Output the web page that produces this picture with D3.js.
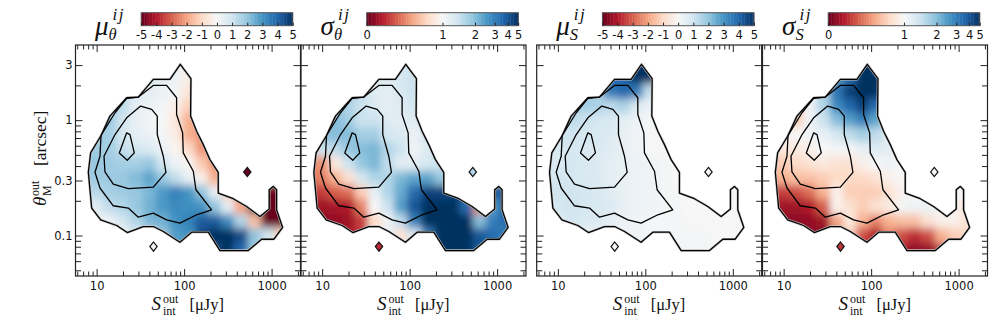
<!DOCTYPE html>
<html>
<head>
<meta charset="utf-8">
<script src="https://cdn.jsdelivr.net/npm/d3@7"></script>
<style>
  html, body { margin: 0; padding: 0; background: #fff; }
  svg { display: block; }
  .tick text { font-family: "DejaVu Sans", sans-serif; font-size: 11.5px; fill: #111; }
  .math { font-family: "Liberation Serif", serif; fill: #111; }
</style>
</head>
<body>
<svg class="chart" width="1008" height="325"></svg>
<script>
// grid centres, log10 of S [uJy] and log10 of theta [arcsec]
const logSBins = [0.85, 1, 1.15, 1.3, 1.45, 1.6, 1.75, 1.9, 2.05, 2.2, 2.35, 2.5, 2.65, 2.8, 2.95, 3.1];
const logThetaBins = [0.5, 0.375, 0.25, 0.125, 0, -0.125, -0.25, -0.375, -0.5, -0.625, -0.75, -0.875, -1, -1.125];

const muTheta = [
  [1.2,1.2,1.2,1.2,1,.8,.6,.4,.2,-.3,-.3,-.3,-.3,-.3,-.3,-.3],
  [1.2,1.2,1.2,1.2,1,.8,.5,.3,-.3,-.6,-.6,-.6,-.6,-.6,-.6,-.6],
  [1.5,1.5,1.5,1.4,.8,.5,.3,.1,-.6,-1,-1,-1,-1,-1,-1,-1],
  [1.9,1.9,1.8,1.3,.5,.3,.1,-.3,-1.2,-1.5,-1.5,-1.5,-1.5,-1.5,-1.5,-1.5],
  [1.9,1.9,1.8,1,.4,.1,0,-.6,-1.8,-2,-2,-2,-2,-2,-2,-2],
  [1.9,1.9,1.7,.9,.5,.3,.1,-.4,-1.8,-2.2,-2.2,-2.2,-2.2,-2.2,-2.2,-2.2],
  [1.8,1.8,1.7,1.2,.9,.7,.3,-.1,-1,-2.2,-2.2,-2.2,-2.2,-2.2,-2.2,-2.2],
  [1.9,1.9,1.8,1.7,1.7,1.9,1,.3,-.1,-1.3,-2.2,-2.2,-2.2,-2.2,-2.2,-2.2],
  [1.8,1.8,1.8,1.9,2.2,2.7,1.9,1.2,.4,-.3,-1.8,-2.2,-2.5,-2.5,-2.5,-2.5],
  [1.4,1.4,1.7,1.8,1.9,2.3,2.9,3.4,3,2,.4,-1.3,-2.2,-4,-5,-5],
  [.6,.6,1.3,1.5,1.9,2.4,2.9,3.2,3.1,3,2,.5,-2,-5,-5,-5],
  [.3,.3,.3,.9,1.5,2.3,2.4,3,3.4,4.2,4.2,3.2,1.5,-1.5,-5,-5],
  [.2,.2,.3,.3,.7,1,1.8,2.8,3,4.5,5,5,4.5,2,1,-1],
  [.2,.2,.3,.3,.5,.8,1.5,2.4,3,4,4.5,5,4,2,1,.5]
];
const sigmaTheta = [
  [1.5,1.5,1.5,1.5,1.5,1.4,1.4,1.5,1.5,1.5,1.5,1.5,1.5,1.5,1.5,1.5],
  [1.5,1.5,1.5,1.5,1.5,1.4,1.3,1.4,1.5,1.5,1.5,1.5,1.5,1.5,1.5,1.5],
  [1.8,1.8,1.8,1.8,1.6,1.3,1.25,1.35,1.5,1.5,1.5,1.5,1.5,1.5,1.5,1.5],
  [2,2,2,1.7,1.5,1.35,1.25,1.3,1.4,1.4,1.4,1.4,1.4,1.4,1.4,1.4],
  [2,2,2,1.8,1.5,1.5,1.3,1.25,1.3,1.4,1.4,1.4,1.4,1.4,1.4,1.4],
  [2,2,2,2,1.8,1.8,1.4,1.35,1.15,1.4,1.4,1.4,1.4,1.4,1.4,1.4],
  [1.5,1.5,1.6,1.9,2,2.1,1.7,1.5,1.1,1.3,1.6,1.6,1.6,1.6,1.6,1.6],
  [.5,.55,.9,1.5,1.9,2.1,1.6,1.25,1.25,1.4,1.5,1.6,1.6,1.6,1.6,1.6],
  [.45,.5,.65,.85,1.4,1.7,1.7,2.1,2.4,2.4,1.9,1.9,1.9,1.9,1.9,1.9],
  [.3,.3,.4,.45,.75,1.2,1.7,2.3,3.5,4.5,4.5,4.5,4,4,4,4],
  [.15,.15,.17,.2,.5,1,1.5,2.5,4,5,5,5,3.5,.5,2.5,4],
  [.1,.1,.12,.15,.3,.8,1.1,1.6,3,5,5,5,5,2,3,3.5],
  [.1,.1,.15,.2,.3,.9,1.2,.85,1.4,3,5,5,5,4,3.5,3],
  [.1,.1,.15,.2,.3,.9,1.1,.9,1.5,3,5,5,5,4,3,3]
];
const muS = [
  [2,2,2,2,2,3,3.5,5,5,5,5,5,5,5,5,5],
  [2,2,2,2,2.5,4,4,5,5,4,4,4,4,4,4,4],
  [1.8,1.8,1.8,1.8,1.7,3.5,4,3.5,1.2,1,1,1,1,1,1,1],
  [1.6,1.6,1.6,1.7,1.6,1.3,1.6,.7,.3,.2,.2,.2,.2,.2,.2,.2],
  [1.3,1.3,1.3,1.1,.9,.8,.5,.3,.1,.1,.1,.1,.1,.1,.1,.1],
  [1.1,1.1,1,.9,.8,.7,.4,.2,.05,0,0,0,0,0,0,0],
  [.8,.8,.9,.8,.7,.6,.4,.2,0,-.05,-.05,-.05,-.05,-.05,-.05,-.05],
  [.7,.7,.9,.8,.7,.5,.4,.3,.2,.1,0,-.05,-.05,-.05,-.05,-.05],
  [.8,.9,.9,.8,.7,.5,.4,.3,.2,.1,0,0,0,0,0,0],
  [.7,1,1,.9,.8,.6,.4,.3,.2,.1,.05,0,0,0,0,0],
  [.5,.9,1,.9,.8,.7,.4,.3,.2,.1,.1,0,0,-.05,-.05,-.1],
  [.3,.5,.9,.8,.7,.5,.3,.2,.1,.1,.1,0,0,0,0,-.05],
  [.2,.3,.4,.3,.3,.3,.2,.2,.1,.1,.1,.1,.1,0,0,0],
  [.2,.3,.4,.3,.3,.3,.2,.2,.1,.1,.1,.1,.1,0,0,0]
];
const sigmaS = [
  [1,1,1,1,1.2,2,3,5,5,5,5,5,5,5,5,5],
  [.9,.9,.9,1,1.3,2.5,3.5,5,5,5,5,5,5,5,5,5],
  [.8,.8,.8,1,1.8,3.3,4.6,5,5,5,5,5,5,5,5,5],
  [.75,.75,.75,1.1,1.7,2.8,3.6,4.5,3.5,2.5,2.5,2.5,2.5,2.5,2.5,2.5],
  [.75,.75,.75,1.1,1.5,2,2.5,3,2.4,1.8,1.8,1.8,1.8,1.8,1.8,1.8],
  [.95,.95,1,1.1,1.2,1.4,1.6,1.8,1.6,1.3,1.3,1.3,1.3,1.3,1.3,1.3],
  [.9,.9,.9,.95,1,1.05,1.05,1.2,1.3,1.25,1.1,1.1,1.1,1.1,1.1,1.1],
  [.7,.75,.8,.85,.9,.85,.85,.95,1,1.1,1.05,1.05,1.05,1.05,1.05,1.05],
  [.65,.65,.7,.7,.75,.8,.8,.8,.85,.95,1,1,1,1,1,1],
  [.3,.3,.35,.45,.65,.95,.75,.75,.75,.85,.95,1.05,1,1,1,1],
  [.15,.15,.15,.2,.4,.95,.85,.75,.85,.9,1.05,1.1,1.15,1.05,.95,.85],
  [.1,.1,.1,.12,.15,.6,.9,.65,.5,.65,.7,.7,.85,.95,.95,.85],
  [.1,.1,.1,.12,.1,.45,.75,.35,.2,.5,.35,.25,.35,.65,.75,.8],
  [.1,.1,.1,.12,.1,.45,.7,.25,.2,.4,.2,.1,.12,.3,.7,.8]
];

// density contours, [log10 S, log10 theta]
const contourOuter = [[1.956,.484],[2.078,.359],[2.074,.035],[2.143,-.096],[2.219,-.212],[2.295,-.342],[2.39,-.452],[2.39,-.632],[2.562,-.681],[2.714,-.748],[2.867,-.835],[2.973,-.771],[2.973,-.603],[3.019,-.574],[3.057,-.603],[3.057,-.777],[3.126,-.93],[3.027,-1.032],[2.886,-1.032],[2.733,-1.13],[2.41,-1.13],[2.276,-.971],[2.086,-.971],[1.952,-1.058],[1.762,-.965],[1.648,-.922],[1.533,-.922],[1.35,-.974],[1.229,-.913],[1.046,-.864],[.943,-.762],[.905,-.452],[.931,-.284],[1.05,-.133],[1.152,.035],[1.343,.194],[1.476,.2],[1.648,.354],[1.838,.354]];
const contourSecond = [[.981,-.452],[1.038,-.313],[1.05,-.133],[1.21,.064],[1.343,.188],[1.476,.2],[1.648,.301],[1.8,.301],[1.914,.194],[1.914,.049],[1.983,-.11],[1.99,-.284],[2.105,-.443],[2.135,-.603],[2.314,-.777],[2.143,-.82],[1.952,-.893],[1.8,-.864],[1.648,-.806],[1.476,-.841],[1.362,-.762],[1.19,-.742],[1.038,-.588]];
const contourThird = [[1.084,-.313],[1.21,-.125],[1.343,.02],[1.503,.122],[1.629,.093],[1.693,.035],[1.693,-.125],[1.762,-.313],[1.792,-.452],[1.648,-.58],[1.362,-.594],[1.19,-.554],[1.095,-.449]];
const contourInner = [[1.343,-.11],[1.381,-.125],[1.43,-.284],[1.35,-.348],[1.259,-.284]];
const contours = [contourOuter, contourSecond, contourThird, contourInner];

// two isolated bins off the main distribution
const loneBins = [[1.65, -1.096], [2.722, -0.449]];
const loneValues = {
  muTheta: [0.1, -5], sigmaTheta: [0.25, 1.7], muS: [0.05, 0], sigmaS: [0.28, 1]
};

const muTicks = [-5, -4, -3, -2, -1, 0, 1, 2, 3, 4, 5];
const sigmaTicks = [0, 1, 2, 3, 4, 5];
const sigmaStops = [0, 0.5, 0.715, 0.845, 0.93, 1];

const xMajor = [10, 100, 1000];
const xMinor = [6, 7, 8, 9, 20, 30, 40, 50, 60, 70, 80, 90, 200, 300, 400, 500, 600, 700, 800, 900, 2000];
const yMajor = [0.1, 0.3, 1, 3];
const yMinor = [0.05, 0.06, 0.07, 0.08, 0.09, 0.2, 0.4, 0.5, 0.6, 0.7, 0.8, 0.9, 2];

const panels = [
  { key: 'muTheta', left: 75.5, grid: muTheta, sym: '\u03bc', sub: '\u03b8', sigma: false },
  { key: 'sigmaTheta', left: 301, grid: sigmaTheta, sym: '\u03c3', sub: '\u03b8', sigma: true },
  { key: 'muS', left: 536.7, grid: muS, sym: '\u03bc', sub: 'S', sigma: false },
  { key: 'sigmaS', left: 762.5, grid: sigmaS, sym: '\u03c3', sub: 'S', sigma: true }
];

const svg = d3.select('.chart');
const frameTop = 45, frameBottom = 276, panelWidth = 225;
const barOffset = 65.7, barWidth = 151.5, barTop = 12.7, barHeight = 13;
const binS = 0.15, binTheta = 0.125;

const colorMap = d3.scaleLinear()
  .domain(d3.range(11).map(i => i / 10))
  .range(d3.schemeRdBu[11]);
const muPos = d3.scaleLinear().domain([-5, 5]).range([0, 1]).clamp(true);
const sigmaPos = d3.scaleLinear().domain(sigmaTicks).range(sigmaStops).clamp(true);

const yScale = d3.scaleLog().domain([4.48, 0.0446]).range([frameTop, frameBottom]);

const defs = svg.append('defs');
const smooth = defs.append('filter').attr('id', 'smooth')
  .attr('filterUnits', 'userSpaceOnUse')
  .attr('x', 0).attr('y', 0).attr('width', 1008).attr('height', 325);
smooth.append('feGaussianBlur').attr('stdDeviation', '3.8 4.2');
const soft = defs.append('filter').attr('id', 'soft')
  .attr('filterUnits', 'userSpaceOnUse')
  .attr('x', 0).attr('y', 0).attr('width', 1008).attr('height', 325);
soft.append('feGaussianBlur').attr('stdDeviation', 0.35);

const addMath = (g, x, y, str, size, italic) => g.append('text')
  .attr('class', 'math').attr('x', x).attr('y', y)
  .attr('font-size', size).attr('font-style', italic ? 'italic' : 'normal')
  .text(str);

const paintPanel = (p, i) => {
  const x0 = p.left;
  const xScale = d3.scaleLog().domain([5.73, 2140]).range([x0, x0 + panelWidth]);
  const pos = p.sigma ? sigmaPos : muPos;
  const fill = v => colorMap(pos(v));
  const px = d => xScale(10 ** d[0]);
  const py = d => yScale(10 ** d[1]);
  const line = d3.line().x(px).y(py).curve(d3.curveLinearClosed);
  const g = svg.append('g').attr('class', `panel-${p.key}`);

  defs.append('clipPath').attr('id', `clip-${p.key}`)
    .append('path').attr('d', line(contourOuter));

  // smoothed map, edge bins stretched so the blur does not fade at the border
  const cells = p.grid.flatMap((row, r) => row.map((v, c) => ({ v, r, c })));
  const edge = 30;
  const cellLeft = c => xScale(10 ** (logSBins[c] - binS / 2)) - (c === 0 ? edge : 0);
  const cellRight = c => xScale(10 ** (logSBins[c] + binS / 2)) + (c === logSBins.length - 1 ? edge : 0);
  const cellTop = r => yScale(10 ** (logThetaBins[r] + binTheta / 2)) - (r === 0 ? edge : 0);
  const cellBottom = r => yScale(10 ** (logThetaBins[r] - binTheta / 2)) + (r === logThetaBins.length - 1 ? edge : 0);
  g.append('g').attr('clip-path', `url(#clip-${p.key})`)
    .append('g').attr('filter', 'url(#smooth)')
    .selectAll('rect').data(cells).enter().append('rect')
    .attr('x', d => cellLeft(d.c))
    .attr('y', d => cellTop(d.r))
    .attr('width', d => cellRight(d.c) - cellLeft(d.c))
    .attr('height', d => cellBottom(d.r) - cellTop(d.r))
    .attr('shape-rendering', 'crispEdges')
    .attr('fill', d => fill(d.v));

  // faint halo round the outer contour, then the contours
  g.append('path').attr('d', line(contourOuter))
    .attr('fill', 'none').attr('stroke', '#c4c4c4').attr('stroke-width', 2.4)
    .attr('stroke-linejoin', 'round').attr('filter', 'url(#soft)');
  g.append('g').attr('filter', 'url(#soft)')
    .selectAll('.level').data(contours).enter().append('path')
    .attr('class', 'level')
    .attr('d', line)
    .attr('fill', 'none').attr('stroke', '#000').attr('stroke-width', 1.3)
    .attr('stroke-linejoin', 'round');

  // lone bins as small diamonds
  const dS = 0.042, dT = 0.04;
  g.selectAll('.lone').data(loneBins).enter().append('path')
    .attr('class', 'lone')
    .attr('d', d => line([[d[0], d[1] + dT], [d[0] + dS, d[1]], [d[0], d[1] - dT], [d[0] - dS, d[1]]]))
    .attr('fill', (d, k) => fill(loneValues[p.key][k]))
    .attr('stroke', '#111').attr('stroke-width', 1.2);

  // frame and inward ticks on all four sides
  g.append('rect').attr('x', x0).attr('y', frameTop)
    .attr('width', panelWidth).attr('height', frameBottom - frameTop)
    .attr('fill', 'none').attr('stroke', '#222').attr('stroke-width', 1.2);

  const tickLine = sel => {
    sel.select('.domain').remove();
    sel.selectAll('.tick line').attr('stroke', '#222').attr('stroke-width', 1);
  };
  const none = () => '';
  g.append('g').attr('transform', `translate(0,${frameBottom})`)
    .call(d3.axisBottom(xScale).tickValues(xMajor).tickSize(-7).tickPadding(6).tickFormat(d3.format('d')))
    .call(tickLine);
  g.append('g').attr('transform', `translate(0,${frameBottom})`)
    .call(d3.axisBottom(xScale).tickValues(xMinor).tickSize(-4.5).tickFormat(none)).call(tickLine);
  g.append('g').attr('transform', `translate(0,${frameTop})`)
    .call(d3.axisTop(xScale).tickValues(xMajor).tickSize(-7).tickFormat(none)).call(tickLine);
  g.append('g').attr('transform', `translate(0,${frameTop})`)
    .call(d3.axisTop(xScale).tickValues(xMinor).tickSize(-4.5).tickFormat(none)).call(tickLine);

  g.append('g').attr('transform', `translate(${x0},0)`)
    .call(d3.axisLeft(yScale).tickValues(yMajor).tickSize(-7).tickPadding(3)
      .tickFormat(i === 0 ? d => String(d) : none))
    .call(tickLine);
  g.append('g').attr('transform', `translate(${x0},0)`)
    .call(d3.axisLeft(yScale).tickValues(yMinor).tickSize(-5.5).tickFormat(none)).call(tickLine);
  g.append('g').attr('transform', `translate(${x0 + panelWidth},0)`)
    .call(d3.axisRight(yScale).tickValues(yMajor).tickSize(-7).tickFormat(none)).call(tickLine);
  g.append('g').attr('transform', `translate(${x0 + panelWidth},0)`)
    .call(d3.axisRight(yScale).tickValues(yMinor).tickSize(-5.5).tickFormat(none)).call(tickLine);

  // x label
  addMath(g, x0 + 76, 310, 'S', 19, true);
  addMath(g, x0 + 87.5, 302.5, 'out', 12, false);
  addMath(g, x0 + 87.5, 315, 'int', 12, false);
  addMath(g, x0 + 114, 310, '[\u03bcJy]', 16.5, false);

  // colour bar
  const barX = x0 + barOffset;
  const barScale = d3.scaleLinear().domain([0, 1]).range([barX, barX + barWidth]);
  const steps = d3.range(0, 1, 1 / 96);
  g.selectAll('.bar').data(steps).enter().append('rect')
    .attr('class', 'bar')
    .attr('x', d => barScale(d))
    .attr('y', barTop)
    .attr('width', barWidth / 96 + 0.4)
    .attr('height', barHeight)
    .attr('fill', d => colorMap(d + 1 / 192));
  g.append('rect').attr('x', barX).attr('y', barTop)
    .attr('width', barWidth).attr('height', barHeight)
    .attr('fill', 'none').attr('stroke', '#555').attr('stroke-width', 1);

  const tickScale = pos.copy().range(pos.range().map(barScale));
  g.append('g').attr('transform', `translate(0,${barTop + barHeight})`)
    .call(d3.axisBottom(tickScale)
      .tickValues(p.sigma ? sigmaTicks : muTicks)
      .tickSize(-3).tickPadding(5.5).tickFormat(d => String(d)))
    .call(tickLine);

  // panel title
  addMath(g, x0 + 19.5, 35, p.sym, 27, true);
  addMath(g, x0 + 33, 40, p.sub, 16.5, true);
  addMath(g, x0 + 37, 20, 'ij', 17, true).attr('letter-spacing', 1.5);
};

panels.forEach(paintPanel);

// shared y label
const yLabel = svg.append('g').attr('transform', 'translate(46,206) rotate(-90)');
addMath(yLabel, 0, 0, '\u03b8', 19, true);
addMath(yLabel, 10, -7.5, 'out', 12, false);
addMath(yLabel, 10, 4.5, 'M', 12, false);
addMath(yLabel, 40, 0, '[arcsec]', 17.5, false);
</script>
</body>
</html>
